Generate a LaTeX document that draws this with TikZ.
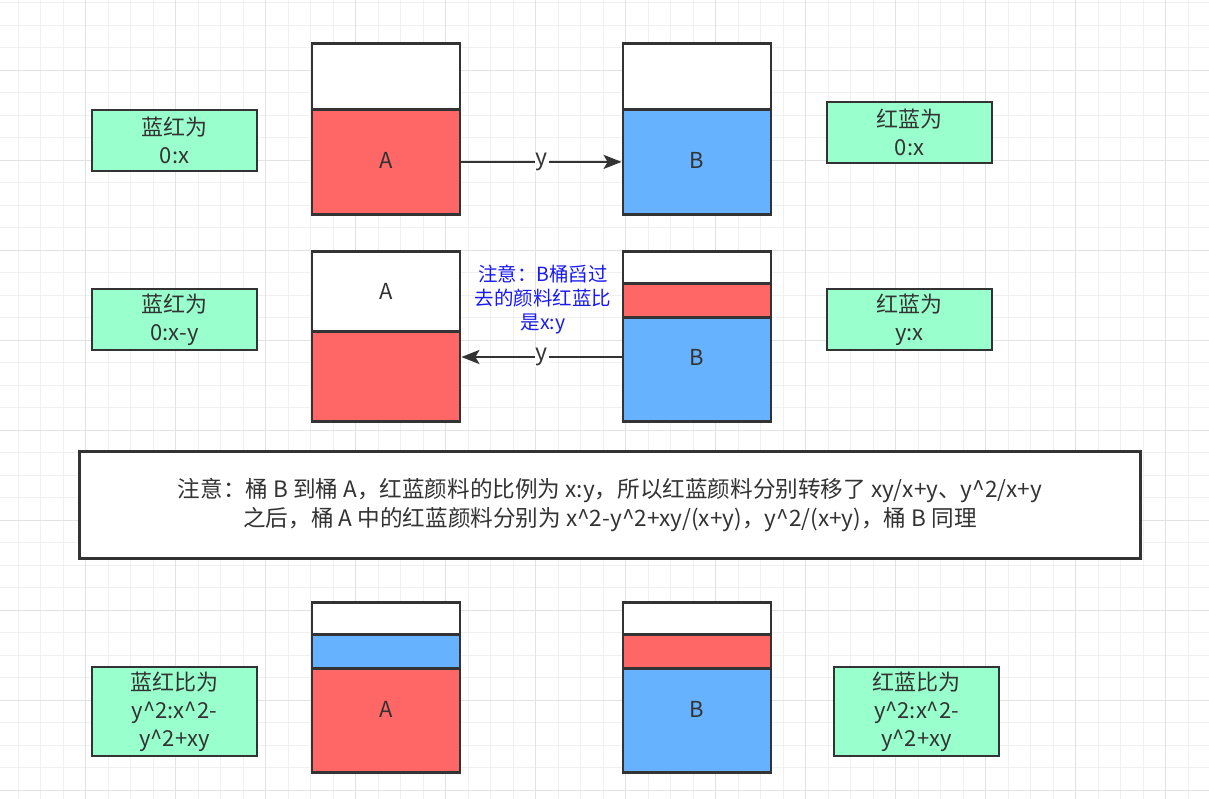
\documentclass[tikz,border=0pt]{standalone}
\usepackage{fontspec}
\setmainfont{Noto Sans CJK SC}
\usetikzlibrary{arrows.meta,positioning}
\definecolor{paintred}{HTML}{FF6666}
\definecolor{paintblue}{HTML}{66B2FF}
\definecolor{notegreen}{HTML}{99FFCC}
\definecolor{inkgray}{HTML}{333333}
\definecolor{noteblue}{HTML}{1A1AF0}
\definecolor{gridminor}{HTML}{F0F0F0}
\definecolor{gridmajor}{HTML}{E2E2E2}
\tikzset{
  segment/.style = {draw=inkgray, line width=2.8pt, minimum width=148pt, inner sep=0pt, anchor=north},
  ratiobox/.style = {draw=inkgray, fill=notegreen, line width=2.8pt, minimum width=165pt, inner sep=0pt, align=center, text=inkgray, font=\fontsize{22}{28}\selectfont},
  bucketlabel/.style = {text=inkgray, inner sep=0pt, font=\fontsize{22}{24}\selectfont},
  pour/.style = {-{Stealth[length=18pt,width=14pt,inset=4pt]}, draw=inkgray, line width=2.4pt},
  pourlabel/.style = {fill=white, inner sep=1pt, text=inkgray, font=\fontsize{23}{24}\selectfont},
  bluenote/.style = {align=center, text=noteblue, inner sep=0pt, font=\fontsize{19.5}{24}\selectfont},
  summarybox/.style = {draw=inkgray, fill=white, line width=2.8pt, align=center, text=inkgray, font=\fontsize{22.6}{29}\selectfont},
}

\begin{document}
\begin{tikzpicture}[x=1pt, y=-1pt]
\useasboundingbox (0,0) rectangle (1209,799);

% Background grid
\fill[white] (0,0) rectangle (1209,799);
\foreach \gx in {0,...,53}
  \draw[gridminor, line width=1.2pt] ({18.2+22.5*\gx},0) -- ++(0,799);
\foreach \gy in {0,...,35}
  \draw[gridminor, line width=1.2pt] (0,{2.8+22.5*\gy}) -- ++(1209,0);
\foreach \gx in {0,...,12}
  \draw[gridmajor, line width=1.2pt] ({85.7+90*\gx},0) -- ++(0,799);
\foreach \gy in {0,...,8}
  \draw[gridmajor, line width=1.2pt] (0,{70.3+90*\gy}) -- ++(1209,0);

% Row 1: before pouring
\node[ratiobox, minimum height=61pt] (ratioA1) at (174.5,140.5) {蓝红为\\0:x};
\node[segment, fill=white, minimum height=66pt] (emptyA1) at (386,42) {};
\node[segment, fill=paintred, minimum height=105pt] (redA1) at (386,108) {};
\node[bucketlabel] (labA1) at (386,160) {A};
\node[segment, fill=white, minimum height=66pt] (emptyB1) at (697,42) {};
\node[segment, fill=paintblue, minimum height=105pt] (blueB1) at (697,108) {};
\node[bucketlabel] (labB1) at (697,160) {B};
\node[ratiobox, minimum height=61pt] (ratioB1) at (909.5,132.5) {红蓝为\\0:x};
\draw[pour] (redA1.east) -- node[pourlabel] {y} (blueB1.west);

% Row 2: pouring back
\node[ratiobox, minimum height=61pt] (ratioA2) at (174.5,319.5) {蓝红为\\0:x-y};
\node[segment, fill=white, minimum height=80pt] (emptyA2) at (386,250) {};
\node[segment, fill=paintred, minimum height=90pt] (redA2) at (386,330) {};
\node[bucketlabel] (labA2) at (386,291) {A};
\node[segment, fill=white, minimum height=32pt] (emptyB2) at (697,250) {};
\node[segment, fill=paintred, minimum height=34pt] (redB2) at (697,282) {};
\node[segment, fill=paintblue, minimum height=104pt] (blueB2) at (697,316) {};
\node[bucketlabel] (labB2) at (697,357) {B};
\node[ratiobox, minimum height=61pt] (ratioB2) at (909.5,319.5) {红蓝为\\y:x};
\node[bluenote] (pournote) at (543,300) {注意：B桶舀过\\去的颜料红蓝比\\是x:y};
\coordinate (pourrow2) at (0,357);
\draw[pour] (blueB2.west |- pourrow2) -- node[pourlabel] {y} (redA2.east |- pourrow2);

% Summary
\node[summarybox, minimum width=1061pt, minimum height=107pt] (summary) at (610,505)
  {注意：桶 B 到桶 A，红蓝颜料的比例为 x:y，所以红蓝颜料分别转移了 xy/x+y、y\^{}2/x+y\\
   之后，桶 A 中的红蓝颜料分别为 x\^{}2-y\^{}2+xy/(x+y)，y\^{}2/(x+y)，桶 B 同理};

% Row 3: result
\node[ratiobox, minimum height=89pt] (ratioA3) at (174.5,711.5) {蓝红比为\\y\^{}2:x\^{}2-\\y\^{}2+xy};
\node[segment, fill=white, minimum height=32pt] (emptyA3) at (386,601) {};
\node[segment, fill=paintblue, minimum height=34pt] (blueA3) at (386,633) {};
\node[segment, fill=paintred, minimum height=104pt] (redA3) at (386,667) {};
\node[bucketlabel] (labA3) at (386,709) {A};
\node[segment, fill=white, minimum height=32pt] (emptyB3) at (697,601) {};
\node[segment, fill=paintred, minimum height=34pt] (redB3) at (697,633) {};
\node[segment, fill=paintblue, minimum height=104pt] (blueB3) at (697,667) {};
\node[bucketlabel] (labB3) at (697,709) {B};
\node[ratiobox, minimum height=89pt] (ratioB3) at (916.5,711.5) {红蓝比为\\y\^{}2:x\^{}2-\\y\^{}2+xy};

\end{tikzpicture}
\end{document}
